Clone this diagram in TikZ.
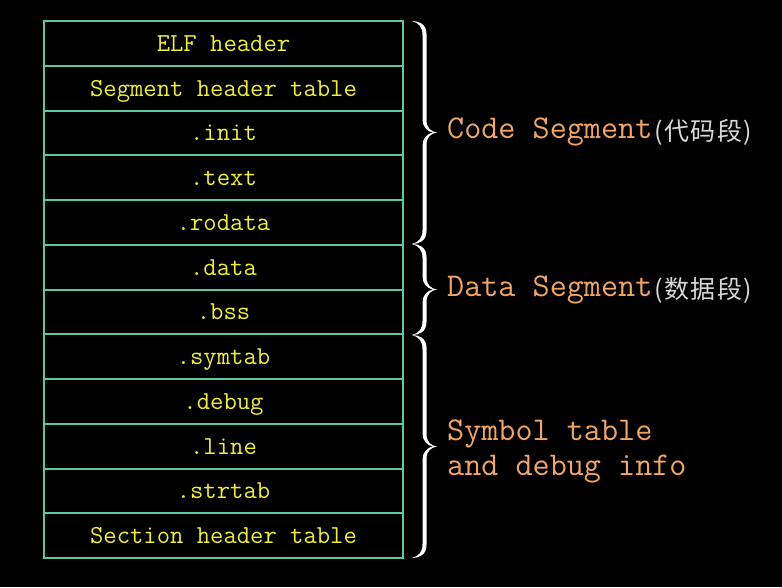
\documentclass[tikz,border=0pt]{standalone}
\usepackage{fontspec}
\newfontfamily\cjk[LetterSpace=6]{Noto Sans CJK SC}
\definecolor{bordercol}{RGB}{92,200,160}
\definecolor{rowtext}{RGB}{240,240,50}
\definecolor{labelcol}{RGB}{242,166,100}
\definecolor{cjkcol}{RGB}{215,215,215}
\newcommand{\segbrace}[2]{%
  \pgfmathsetmacro\bM{(#1+#2)/2}%
  \fill[white] (412,#1)
    .. controls (419,#1) and (426.5,#1+3) .. (426.5,#1+13)
    -- (426.5,\bM-13)
    .. controls (426.5,\bM-4) and (431,\bM-1) .. (437,\bM)
    .. controls (431,\bM+1) and (426.5,\bM+4) .. (426.5,\bM+13)
    -- (426.5,#2-13)
    .. controls (426.5,#2-3) and (419,#2) .. (412,#2)
    .. controls (419,#2-2) and (422.5,#2-6) .. (422.5,#2-14)
    -- (422.5,\bM+13)
    .. controls (422.5,\bM+6) and (427,\bM+1) .. (433,\bM)
    .. controls (427,\bM-1) and (422.5,\bM-6) .. (422.5,\bM-13)
    -- (422.5,#1+14)
    .. controls (422.5,#1+6) and (419,#1+2) .. (412,#1) -- cycle;}
\tikzset{
  rowbox/.style={draw=bordercol, line width=2pt, minimum width=359pt, minimum height=44.75pt,
    inner sep=0pt, text height=21pt, text depth=5pt, text=rowtext,
    font=\ttfamily\fontsize{25.9}{28}\selectfont},
  seglabel/.style={anchor=base west, inner sep=0pt, text=labelcol,
    font=\ttfamily\fontsize{33.2}{35}\selectfont},
  cjklabel/.style={anchor=base west, inner sep=0pt, text=cjkcol,
    font=\cjk\fontsize{25}{28}\selectfont},
}
\begin{document}
\begin{tikzpicture}[x={(1pt,0pt)},y={(0pt,-1pt)}]
\fill[black] (0,0) rectangle (782,587);
\useasboundingbox (0,0) rectangle (782,587);
\foreach \t [count=\i] in {ELF header, Segment header table, .init, .text, .rodata, .data, .bss, .symtab, .debug, .line, .strtab, Section header table}{
  \node[rowbox] (r\i) at (223.5, {21+44.75*(\i-0.5)}) {\t};
}
\segbrace{21}{244}
\segbrace{244}{335}
\segbrace{335}{558}
\node[seglabel] (lcode) at (447,138) {Code Segment};
\node[cjklabel] (ccode) at (654,140) {(代码段)};
\node[seglabel] (ldata) at (447,296) {Data Segment};
\node[cjklabel] (cdata) at (654,298) {(数据段)};
\node[seglabel] (lsym1) at (447,440) {Symbol table};
\node[seglabel] (lsym2) at (447,475) {and debug info};
\end{tikzpicture}
\end{document}
